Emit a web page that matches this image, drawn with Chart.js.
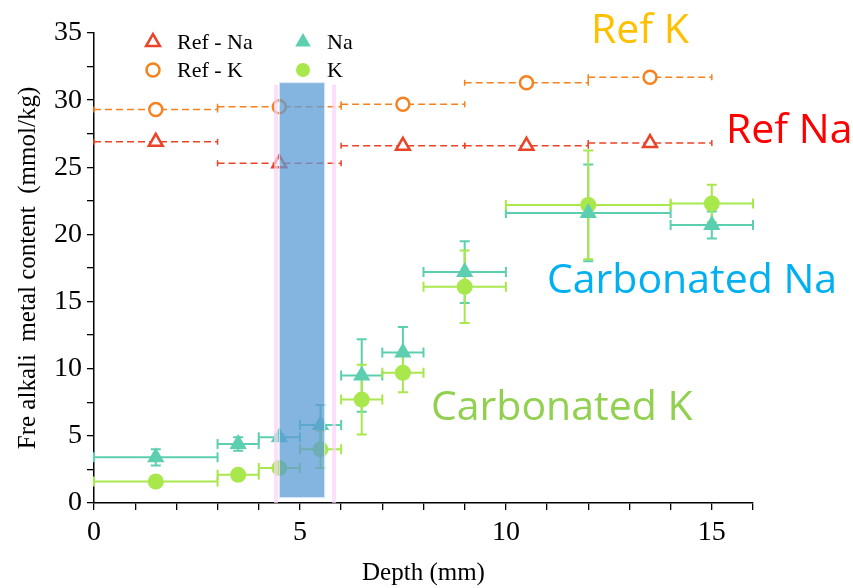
<!DOCTYPE html>
<html>
<head>
<meta charset="utf-8">
<script src="https://cdn.jsdelivr.net/npm/chart.js@4.4.1/dist/chart.umd.min.js"></script>
<style>
  html, body { margin: 0; padding: 0; background: #fff; }
  #wrap { width: 853px; height: 588px; }
</style>
</head>
<body>
<div id="wrap"><canvas id="chart"></canvas></div>
<script>
// --- Data ---
const refDepth = [1.5, 4.5, 7.5, 10.5, 13.5];
const refDepthLo = [0, 3, 6, 9, 12];
const refDepthHi = [3, 6, 9, 12, 15];
const refNa = [26.9, 25.3, 26.6, 26.6, 26.8];
const refK = [29.3, 29.5, 29.7, 31.3, 31.7];

const depth = [1.5, 3.5, 4.5, 5.5, 6.5, 7.5, 9, 12, 15];
const depthLo = [0, 3, 4, 5, 6, 7, 8, 10, 14];
const depthHi = [3, 4, 5, 6, 7, 8, 10, 14, 16];
const na = [3.4, 4.4, 4.9, 5.8, 9.5, 11.2, 17.2, 21.6, 20.7];
const naErr = [0.6, 0.5, 0.2, 1.5, 2.7, 1.9, 2.3, 3.6, 1.0];
const k = [1.6, 2.1, 2.6, 4.0, 7.7, 9.7, 16.1, 22.2, 22.3];
const kErr = [0.2, 0.2, 0.2, 1.4, 2.6, 1.45, 2.7, 4.05, 1.4];

const xTickLabels = [0, 5, 10, 15];
const yTickLabels = [0, 5, 10, 15, 20, 25, 30, 35];

// highlighted zone (mm / mmol/kg)
const zoneX = [4.5, 5.6];
const zoneY = [0.4, 31.3];
const zoneEdges = [4.42, 5.83];

const COLORS = {
    refNa: '#ea4428',
    refK: '#f5821f',
    na: '#5dcfb1',
    k: '#a8e84c'
};

const serif = "'Liberation Serif', 'Times New Roman', serif";
const sans = "'Open Sans', sans-serif";

const toPoints = (xs, ys) => xs.map((v, i) => ({ x: v, y: ys[i] }));

// --- Plugins ---
const errorBars = {
    id: 'errorBars',
    beforeDatasetsDraw(chart) {
        const { ctx, scales: { x, y } } = chart;
        chart.data.datasets.forEach(ds => {
            const e = ds.errors;
            if (!e) return;
            ctx.save();
            ctx.strokeStyle = ds.borderColor;
            ctx.lineWidth = e.width;
            ds.data.forEach((p, i) => {
                const py = y.getPixelForValue(p.y);
                const px = x.getPixelForValue(p.x);
                const xl = x.getPixelForValue(e.lo[i]);
                const xh = x.getPixelForValue(e.hi[i]);
                ctx.setLineDash(e.dash || []);
                ctx.beginPath();
                ctx.moveTo(xl, py);
                ctx.lineTo(xh, py);
                ctx.stroke();
                ctx.setLineDash([]);
                ctx.beginPath();
                ctx.moveTo(xl, py - e.cap); ctx.lineTo(xl, py + e.cap);
                ctx.moveTo(xh, py - e.cap); ctx.lineTo(xh, py + e.cap);
                ctx.stroke();
                if (e.yErr && e.yErr[i] > 0) {
                    const yt = y.getPixelForValue(p.y + e.yErr[i]);
                    const yb = y.getPixelForValue(p.y - e.yErr[i]);
                    ctx.beginPath();
                    ctx.moveTo(px, yt); ctx.lineTo(px, yb);
                    ctx.moveTo(px - e.cap, yt); ctx.lineTo(px + e.cap, yt);
                    ctx.moveTo(px - e.cap, yb); ctx.lineTo(px + e.cap, yb);
                    ctx.stroke();
                }
            });
            ctx.restore();
        });
    }
};

const zone = {
    id: 'zone',
    afterDatasetsDraw(chart) {
        const { ctx, scales: { x, y } } = chart;
        ctx.save();
        // pink edges
        ctx.strokeStyle = 'rgba(250, 210, 250, 0.7)';
        ctx.lineWidth = 4;
        zoneEdges.forEach(v => {
            const px = x.getPixelForValue(v);
            ctx.beginPath();
            ctx.moveTo(px, y.getPixelForValue(zoneY[1]) + 2);
            ctx.lineTo(px, y.getPixelForValue(0));
            ctx.stroke();
        });
        // blue box
        const l = x.getPixelForValue(zoneX[0]);
        const r = x.getPixelForValue(zoneX[1]);
        const t = y.getPixelForValue(zoneY[1]);
        const b = y.getPixelForValue(zoneY[0]);
        ctx.fillStyle = 'rgba(91, 155, 213, 0.75)';
        ctx.fillRect(l, t, r - l, b - t);
        ctx.strokeStyle = 'rgba(220, 235, 250, 0.9)';
        ctx.lineWidth = 1;
        ctx.strokeRect(l, t, r - l, b - t);
        ctx.restore();
    }
};

const labelsAndLegend = {
    id: 'labelsAndLegend',
    afterDraw(chart) {
        const { ctx } = chart;
        ctx.save();
        // big annotations
        ctx.textBaseline = 'alphabetic';
        ctx.textAlign = 'left';
        ctx.font = `41px ${sans}`;
        ctx.fillStyle = '#ffc000';
        ctx.fillText('Ref K', 591, 43);
        ctx.fillStyle = '#ff0000';
        ctx.fillText('Ref Na', 726, 143);
        ctx.fillStyle = '#00b0f0';
        ctx.fillText('Carbonated Na', 547, 293);
        ctx.fillStyle = '#92d050';
        ctx.fillText('Carbonated K', 431, 420);

        // legend, two columns
        const items = [
            { text: 'Ref - Na', ds: 0, x: 153, y: 42 },
            { text: 'Ref - K', ds: 1, x: 153, y: 70 },
            { text: 'Na', ds: 2, x: 303, y: 42 },
            { text: 'K', ds: 3, x: 303, y: 70 }
        ];
        ctx.font = `22px ${serif}`;
        ctx.textBaseline = 'middle';
        items.forEach(it => {
            const ds = chart.data.datasets[it.ds];
            ctx.fillStyle = ds.pointBackgroundColor;
            ctx.strokeStyle = ds.borderColor;
            ctx.lineWidth = ds.borderWidth;
            Chart.helpers.drawPoint(ctx, {
                pointStyle: ds.pointStyle,
                radius: ds.legendRadius,
                rotation: 0,
                borderWidth: ds.borderWidth
            }, it.x, it.y);
            ctx.fillStyle = '#000';
            ctx.fillText(it.text, it.x + 24, it.y + 1);
        });
        ctx.restore();
    }
};

// --- Chart ---
const ctx = document.getElementById('chart');
new Chart(ctx, {
    type: 'scatter',
    data: {
        datasets: [
            {
                label: 'Ref - Na',
                data: toPoints(refDepth, refNa),
                pointStyle: 'triangle',
                pointRadius: 8,
                legendRadius: 8,
                pointBackgroundColor: '#fff',
                borderColor: COLORS.refNa,
                borderWidth: 2.5,
                errors: { lo: refDepthLo, hi: refDepthHi, cap: 3, width: 1.5, dash: [7, 4] }
            },
            {
                label: 'Ref - K',
                data: toPoints(refDepth, refK),
                pointStyle: 'circle',
                pointRadius: 6.5,
                legendRadius: 6.5,
                pointBackgroundColor: '#fff',
                borderColor: COLORS.refK,
                borderWidth: 2.5,
                errors: { lo: refDepthLo, hi: refDepthHi, cap: 3, width: 1.5, dash: [7, 4] }
            },
            {
                label: 'Na',
                data: toPoints(depth, na),
                pointStyle: 'triangle',
                pointRadius: 10,
                legendRadius: 9,
                pointBackgroundColor: COLORS.na,
                borderColor: COLORS.na,
                borderWidth: 0,
                errors: { lo: depthLo, hi: depthHi, yErr: naErr, cap: 5, width: 2 }
            },
            {
                label: 'K',
                data: toPoints(depth, k),
                pointStyle: 'circle',
                pointRadius: 8,
                legendRadius: 7,
                pointBackgroundColor: COLORS.k,
                borderColor: COLORS.k,
                borderWidth: 0,
                errors: { lo: depthLo, hi: depthHi, yErr: kErr, cap: 5, width: 2 }
            }
        ]
    },
    options: {
        responsive: true,
        maintainAspectRatio: false,
        animation: false,
        layout: { padding: { top: 33, right: 100, left: 0, bottom: 0 } },
        plugins: {
            legend: { display: false },
            tooltip: { enabled: false }
        },
        scales: {
            x: {
                type: 'linear',
                min: 0,
                max: 16,
                afterFit: s => { s.height = 85; },
                border: { display: true, color: '#000', width: 1.5 },
                grid: { display: true, drawOnChartArea: false, drawTicks: true, tickLength: 7, color: '#000', lineWidth: 1.3 },
                ticks: {
                    stepSize: 1,
                    autoSkip: false,
                    maxRotation: 0,
                    padding: 6,
                    color: '#000',
                    font: { family: serif, size: 28 },
                    callback: v => xTickLabels.includes(v) ? String(v) : ''
                },
                title: {
                    display: true,
                    text: 'Depth (mm)',
                    color: '#000',
                    font: { family: serif, size: 25 },
                    padding: { top: 0, bottom: 0 }
                }
            },
            y: {
                type: 'linear',
                min: 0,
                max: 35,
                afterFit: s => { s.width = 94; },
                border: { display: true, color: '#000', width: 1.5 },
                grid: { display: true, drawOnChartArea: false, drawTicks: true, tickLength: 7, color: '#000', lineWidth: 1.3 },
                ticks: {
                    stepSize: 2.5,
                    autoSkip: false,
                    padding: 5,
                    color: '#000',
                    font: { family: serif, size: 28 },
                    callback: v => yTickLabels.includes(v) ? String(v) : ''
                },
                title: {
                    display: true,
                    text: 'Fre alkali  metal content  (mmol/kg)',
                    color: '#000',
                    font: { family: serif, size: 25 },
                    padding: { top: 13, bottom: 0 }
                }
            }
        }
    },
    plugins: [errorBars, zone, labelsAndLegend]
});
</script>
</body>
</html>
